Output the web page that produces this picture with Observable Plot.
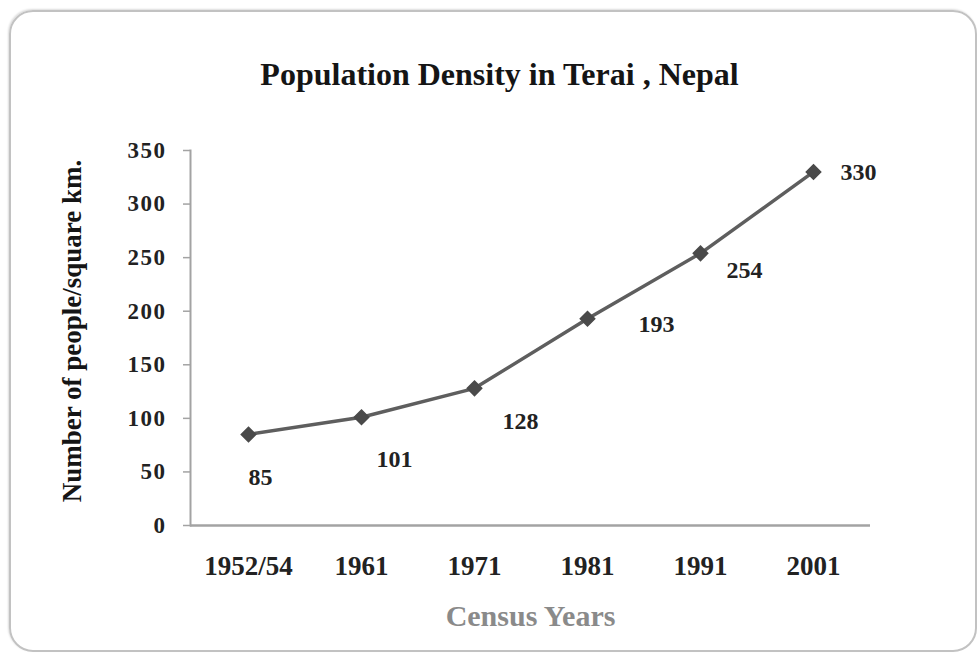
<!DOCTYPE html>
<html>
<head>
<meta charset="utf-8">
<script src="https://cdn.jsdelivr.net/npm/d3@7"></script>
<script src="https://cdn.jsdelivr.net/npm/@observablehq/plot@0.6"></script>
<style>
  body { margin: 0; background: #fff; }
  #chart { position: relative; width: 977px; height: 657px; overflow: hidden; background: #fff; }
  #panel {
    position: absolute; left: 9px; top: 10px; width: 964px; height: 638px;
    border: 2px solid #c2c2c2; border-radius: 24px;
    box-shadow: -1px -1px 2px #dcdcdc;
  }
  #chart svg { position: absolute; left: 0; top: 0; }
  #chart svg g[aria-label="y-axis tick label"] text { letter-spacing: 1.5px; }
</style>
</head>
<body>
<div id="chart"><div id="panel"></div></div>
<script>
// Census years and population density (people per square km) in the Terai
const years = ["1952/54", "1961", "1971", "1981", "1991", "2001"];
const density = [85, 101, 128, 193, 254, 330];
const yTicks = [0, 50, 100, 150, 200, 250, 300, 350];

const title = "Population Density in Terai , Nepal";
const yLabel = "Number of people/square km.";
const xLabel = "Census Years";

const data = years.map((year, i) => ({year, density: density[i]}));

// pixel offsets of each value label from its marker
const labelOffsets = [[12, 43], [33, 42], [46, 33], [69, 6], [44, 17], [45, 0]];

const serif = "'Liberation Serif', 'Times New Roman', Times, serif";

const chart = Plot.plot({
  width: 977,
  height: 657,
  marginLeft: 190,
  marginRight: 107,
  marginTop: 150,
  marginBottom: 132,
  style: {fontFamily: serif, fontWeight: "bold", background: "transparent", overflow: "visible"},
  x: {type: "point", domain: years, padding: 0.5},
  y: {domain: [0, 350]},
  marks: [
    Plot.axisY(yTicks, {tickSize: 7, tickPadding: 17, fontSize: 23, stroke: "#a3a3a3", strokeWidth: 1.5, fill: "#222", label: null}),
    Plot.axisX({tickSize: 0, tickPadding: 30, fontSize: 27, fill: "#222", label: null}),
    Plot.frame({anchor: "left", stroke: "#a3a3a3", strokeWidth: 2}),
    Plot.ruleY([0], {stroke: "#a3a3a3", strokeWidth: 2.5}),
    Plot.line(data, {x: "year", y: "density", stroke: "#5e5e5e", strokeWidth: 3.5}),
    Plot.dot(data, {x: "year", y: "density", symbol: "diamond2", r: 6.5, fill: "#4a4a4a", stroke: "#4a4a4a"}),
    ...data.map((d, i) => Plot.text([d], {
      x: "year", y: "density", text: (e) => String(e.density),
      dx: labelOffsets[i][0], dy: labelOffsets[i][1],
      fontSize: 24, fill: "#222"
    })),
    Plot.text([title], {frameAnchor: "top", textAnchor: "middle", dx: -31, dy: -66, lineAnchor: "bottom", fontSize: 32, fill: "#151515"}),
    Plot.text([yLabel], {frameAnchor: "left", textAnchor: "middle", rotate: -90, dx: -110, dy: -7, lineAnchor: "bottom", fontSize: 27, fill: "#151515"}),
    Plot.text([xLabel], {frameAnchor: "bottom", textAnchor: "middle", dy: 100, lineAnchor: "bottom", fontSize: 30, fill: "#8a8a8a"})
  ]
});

document.getElementById("chart").appendChild(chart);
</script>
</body>
</html>
